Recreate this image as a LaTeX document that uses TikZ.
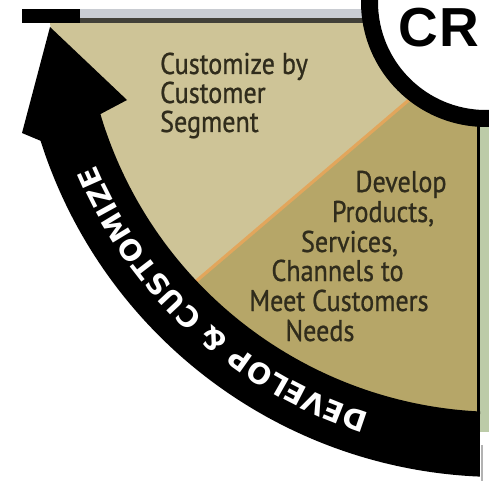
\documentclass[tikz,border=0pt]{standalone}
\usepackage{fontspec}
\setmainfont{PT Sans}
\newfontfamily\labelfont{PT Sans}[FakeStretch=0.87,FakeBold=0.8]
\newfontfamily\bandfont{DejaVu Sans}
\newfontfamily\hubfont{Liberation Sans}
\usetikzlibrary{decorations.text}

\definecolor{paletan}{RGB}{206,196,151}
\definecolor{deeptan}{RGB}{182,166,104}
\definecolor{divider}{RGB}{226,166,92}
\definecolor{rimgray}{RGB}{201,204,210}
\definecolor{rimdark}{RGB}{66,64,56}
\definecolor{inkdark}{RGB}{48,44,28}
\definecolor{sidegreen}{RGB}{188,203,168}

\begin{document}
\begin{tikzpicture}[x=1pt,y=-1pt,
  wedgetext/.style={font=\labelfont\fontsize{30}{30}\selectfont, text=inkdark, inner sep=0pt},
  hubtext/.style={font=\hubfont\bfseries\fontsize{55}{55}\selectfont, inner sep=0pt}]
\path[use as bounding box] (0,0) rectangle (489,481);
\clip (0,0) rectangle (489,481);
\fill[white] (0,0) rectangle (489,481);
\coordinate (O) at (500,-5);
\coordinate (H) at (486,2);

% pale upper segment
\fill[paletan] (50,23) -- (478,23) -- (478,460) -- (461,443) -- (346,418)
  -- (242,364) -- (155,284) -- (92,185) -- (60,100) -- cycle;
% deeper lower segment
\fill[deeptan] (174,300) -- (430,82) -- (478,82) -- (478,460) -- (461,443)
  -- (346,418) -- (242,364) -- cycle;
% divider between the two segments
\coordinate (divA) at (174,300);
\coordinate (divB) at (430,82);
\draw[divider, line width=3.2] (divA) -- (divB);

% rim along the top
\fill[rimgray] (80,9) rectangle (370,18);
\fill[rimdark] (80,18) rectangle (370,23);
\fill[black] (22,9) rectangle (80,23);

% right edge of the quarter
\fill[sidegreen] (480,100) rectangle (489,432);
\fill[black] (476.5,100) rectangle (480,445);
\draw[black!30, line width=1.5] (482,445) -- (482,481);

% curved arrow band
\fill[black] (479.8,476.6) arc[start angle=92.4, end angle=162.4, radius=482]
  -- (22,133) -- (50,27) -- (127,100) -- (100.4,114.1)
  arc[start angle=163.4, end angle=92.75, radius=417] -- cycle;

% hub circle
\fill[white] (H) circle[radius=116];
\draw[black, line width=17] (H) circle[radius=116.5];
\node[hubtext, anchor=base west] (hub) at (398,47) {C\kern2ptR};

% segment labels
\node[wedgetext, anchor=base west] (seg1) at (160,74) {Customize by};
\node[wedgetext, anchor=base west] (seg2) at (160,103) {Customer};
\node[wedgetext, anchor=base west] (seg3) at (160,132) {Segment};
\node[wedgetext, anchor=base] (dev1) at (401,192) {Develop};
\node[wedgetext, anchor=base] (dev2) at (383,222) {Products,};
\node[wedgetext, anchor=base] (dev3) at (349.5,252) {Services,};
\node[wedgetext, anchor=base] (dev4) at (337.5,281) {Channels to};
\node[wedgetext, anchor=base] (dev5) at (339,311) {Meet Customers};
\node[wedgetext, anchor=base] (dev6) at (320,341) {Needs};

% lettering on the band
\path[decorate, decoration={text along path, text align=center, text color=white,
  text={|\bandfont\bfseries\fontsize{28.6}{30}\selectfont|DEVELOP {\&} CUSTOMIZE}}]
  (423.9,426.3) arc[start angle=100, end angle=164.6, radius=438];
\end{tikzpicture}
\end{document}
